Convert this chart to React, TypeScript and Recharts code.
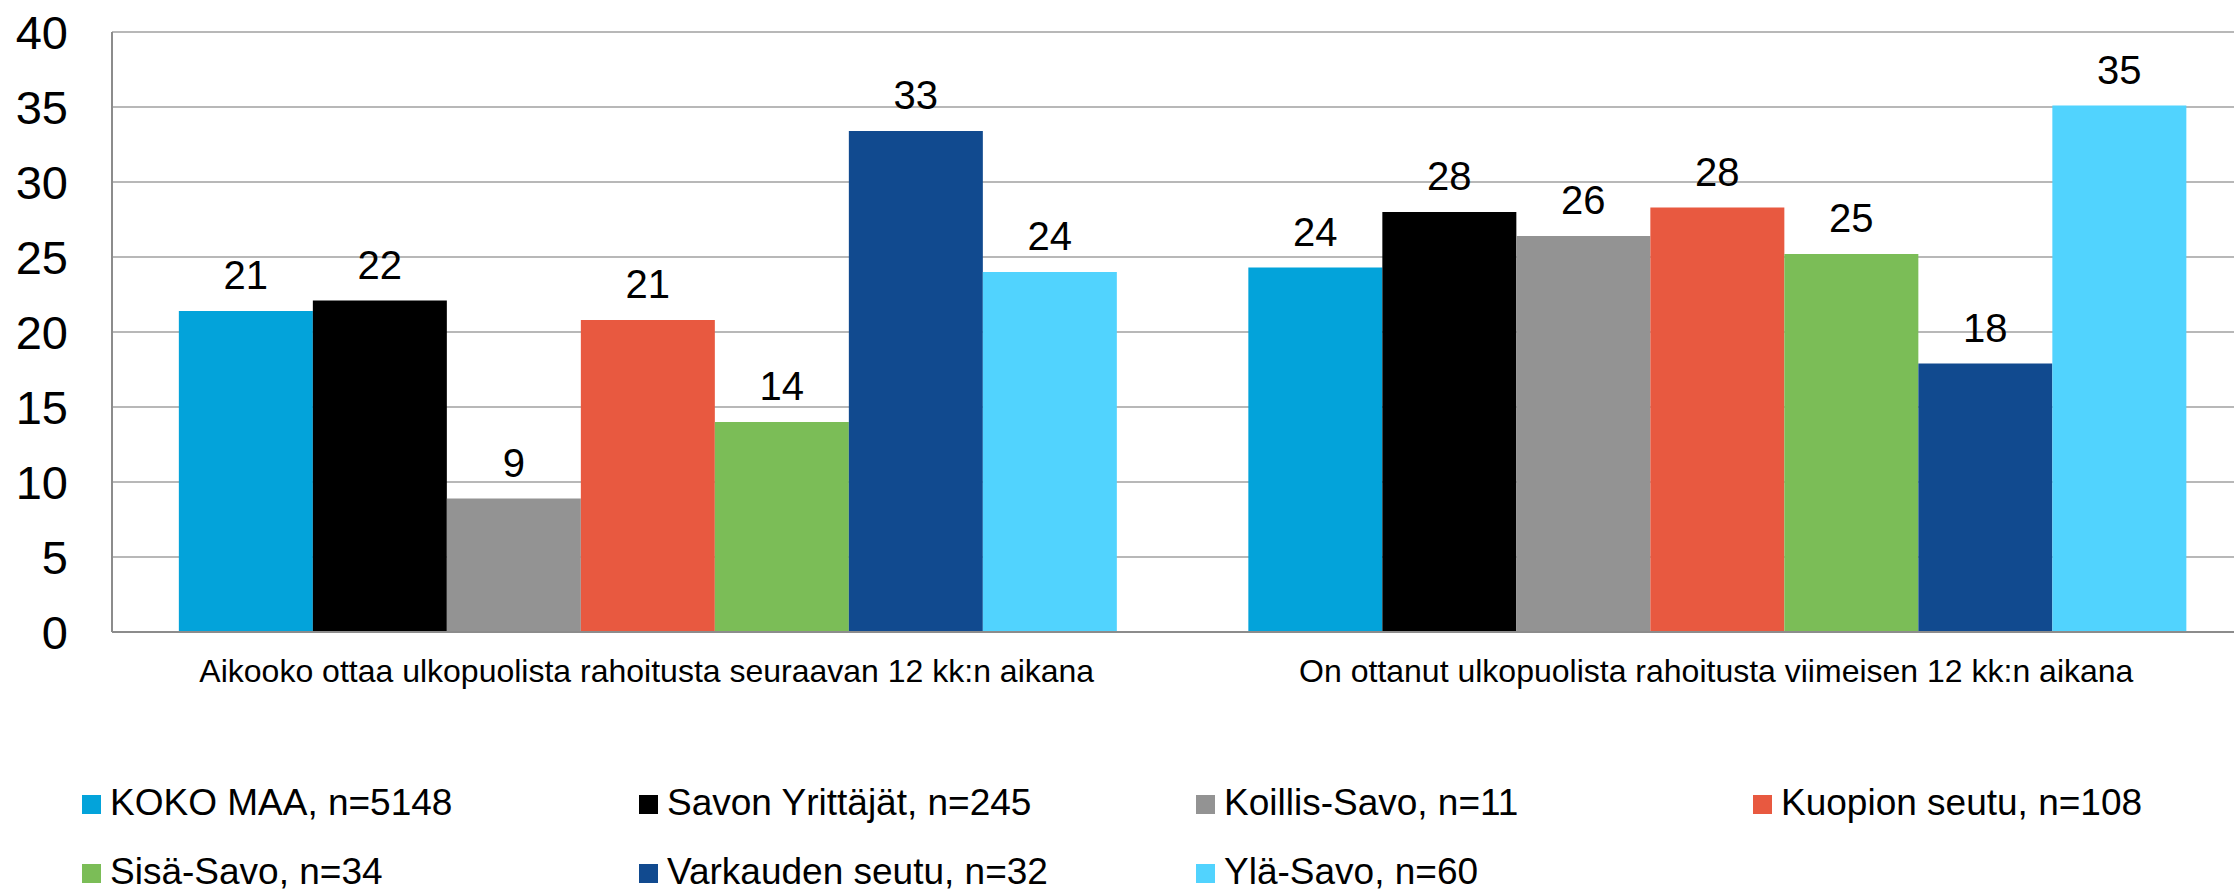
import { BarChart, Bar, XAxis, YAxis, CartesianGrid, LabelList } from 'recharts'

const categories = [
  'Aikooko ottaa ulkopuolista rahoitusta seuraavan 12 kk:n aikana',
  'On ottanut ulkopuolista rahoitusta viimeisen 12 kk:n aikana'
]

const kokoMaa = [21.4, 24.3]
const savonYrittajat = [22.1, 28.0]
const koillisSavo = [8.9, 26.4]
const kuopionSeutu = [20.8, 28.3]
const sisaSavo = [14.0, 25.2]
const varkaudenSeutu = [33.4, 17.9]
const ylaSavo = [24.0, 35.1]

const yTicks = [0, 5, 10, 15, 20, 25, 30, 35, 40]

const series = [
  { key: 'kokoMaa', name: 'KOKO MAA, n=5148', values: kokoMaa, color: '#03a3da' },
  { key: 'savonYrittajat', name: 'Savon Yrittäjät, n=245', values: savonYrittajat, color: '#000000' },
  { key: 'koillisSavo', name: 'Koillis-Savo, n=11', values: koillisSavo, color: '#939393' },
  { key: 'kuopionSeutu', name: 'Kuopion seutu, n=108', values: kuopionSeutu, color: '#e85940' },
  { key: 'sisaSavo', name: 'Sisä-Savo, n=34', values: sisaSavo, color: '#7bbd57' },
  { key: 'varkaudenSeutu', name: 'Varkauden seutu, n=32', values: varkaudenSeutu, color: '#114a8f' },
  { key: 'ylaSavo', name: 'Ylä-Savo, n=60', values: ylaSavo, color: '#51d3fe' }
]

const data = categories.map((name, i) => {
  const row: Record<string, string | number> = { name }
  series.forEach(s => { row[s.key] = s.values[i] })
  return row
})

const FONT = '"Liberation Sans", Arial, sans-serif'

export default function App() {
  return (
    <div style={{ position: 'absolute', left: 0, top: 0, width: 2234, height: 889, overflow: 'hidden', background: '#fff', fontFamily: FONT }}>
      <BarChart
        width={2251}
        height={889}
        data={data}
        margin={{ top: 32, right: 0, left: 0, bottom: 227 }}
        barCategoryGap="6.25%"
        barGap={0}
      >
        <CartesianGrid vertical={false} stroke="#a0a0a0" strokeWidth={1.5} />
        <XAxis
          dataKey="name"
          height={30}
          tickLine={false}
          tickSize={0}
          tickMargin={27}
          axisLine={{ stroke: '#8c8c8c', strokeWidth: 2 }}
          tick={{ fontSize: 32, fill: '#000', fontFamily: FONT }}
          interval={0}
        />
        <YAxis
          width={112}
          domain={[0, 40]}
          ticks={yTicks}
          tickLine={false}
          tickSize={0}
          tickMargin={44}
          axisLine={{ stroke: '#8c8c8c', strokeWidth: 2 }}
          tick={{ fontSize: 47, fill: '#000', fontFamily: FONT }}
        />
        {series.map(s => (
          <Bar key={s.key} dataKey={s.key} name={s.name} fill={s.color} isAnimationActive={false}>
            <LabelList
              dataKey={s.key}
              position="top"
              offset={22}
              formatter={(v: number) => Math.round(v)}
              style={{ fontSize: 40, fill: '#000', fontFamily: FONT }}
            />
          </Bar>
        ))}
      </BarChart>

      {/* legend, 4 columns */}
      {series.map((s, i) => {
        const col = i % 4
        const row = Math.floor(i / 4)
        const left = 82 + col * 557
        return (
          <div key={s.key}>
            <div style={{ position: 'absolute', left, top: 795 + row * 69, width: 19, height: 19, background: s.color }} />
            <div style={{ position: 'absolute', left: left + 28, top: 783 + row * 69, fontSize: 37, lineHeight: '40px', whiteSpace: 'nowrap', color: '#000' }}>
              {s.name}
            </div>
          </div>
        )
      })}
    </div>
  )
}
